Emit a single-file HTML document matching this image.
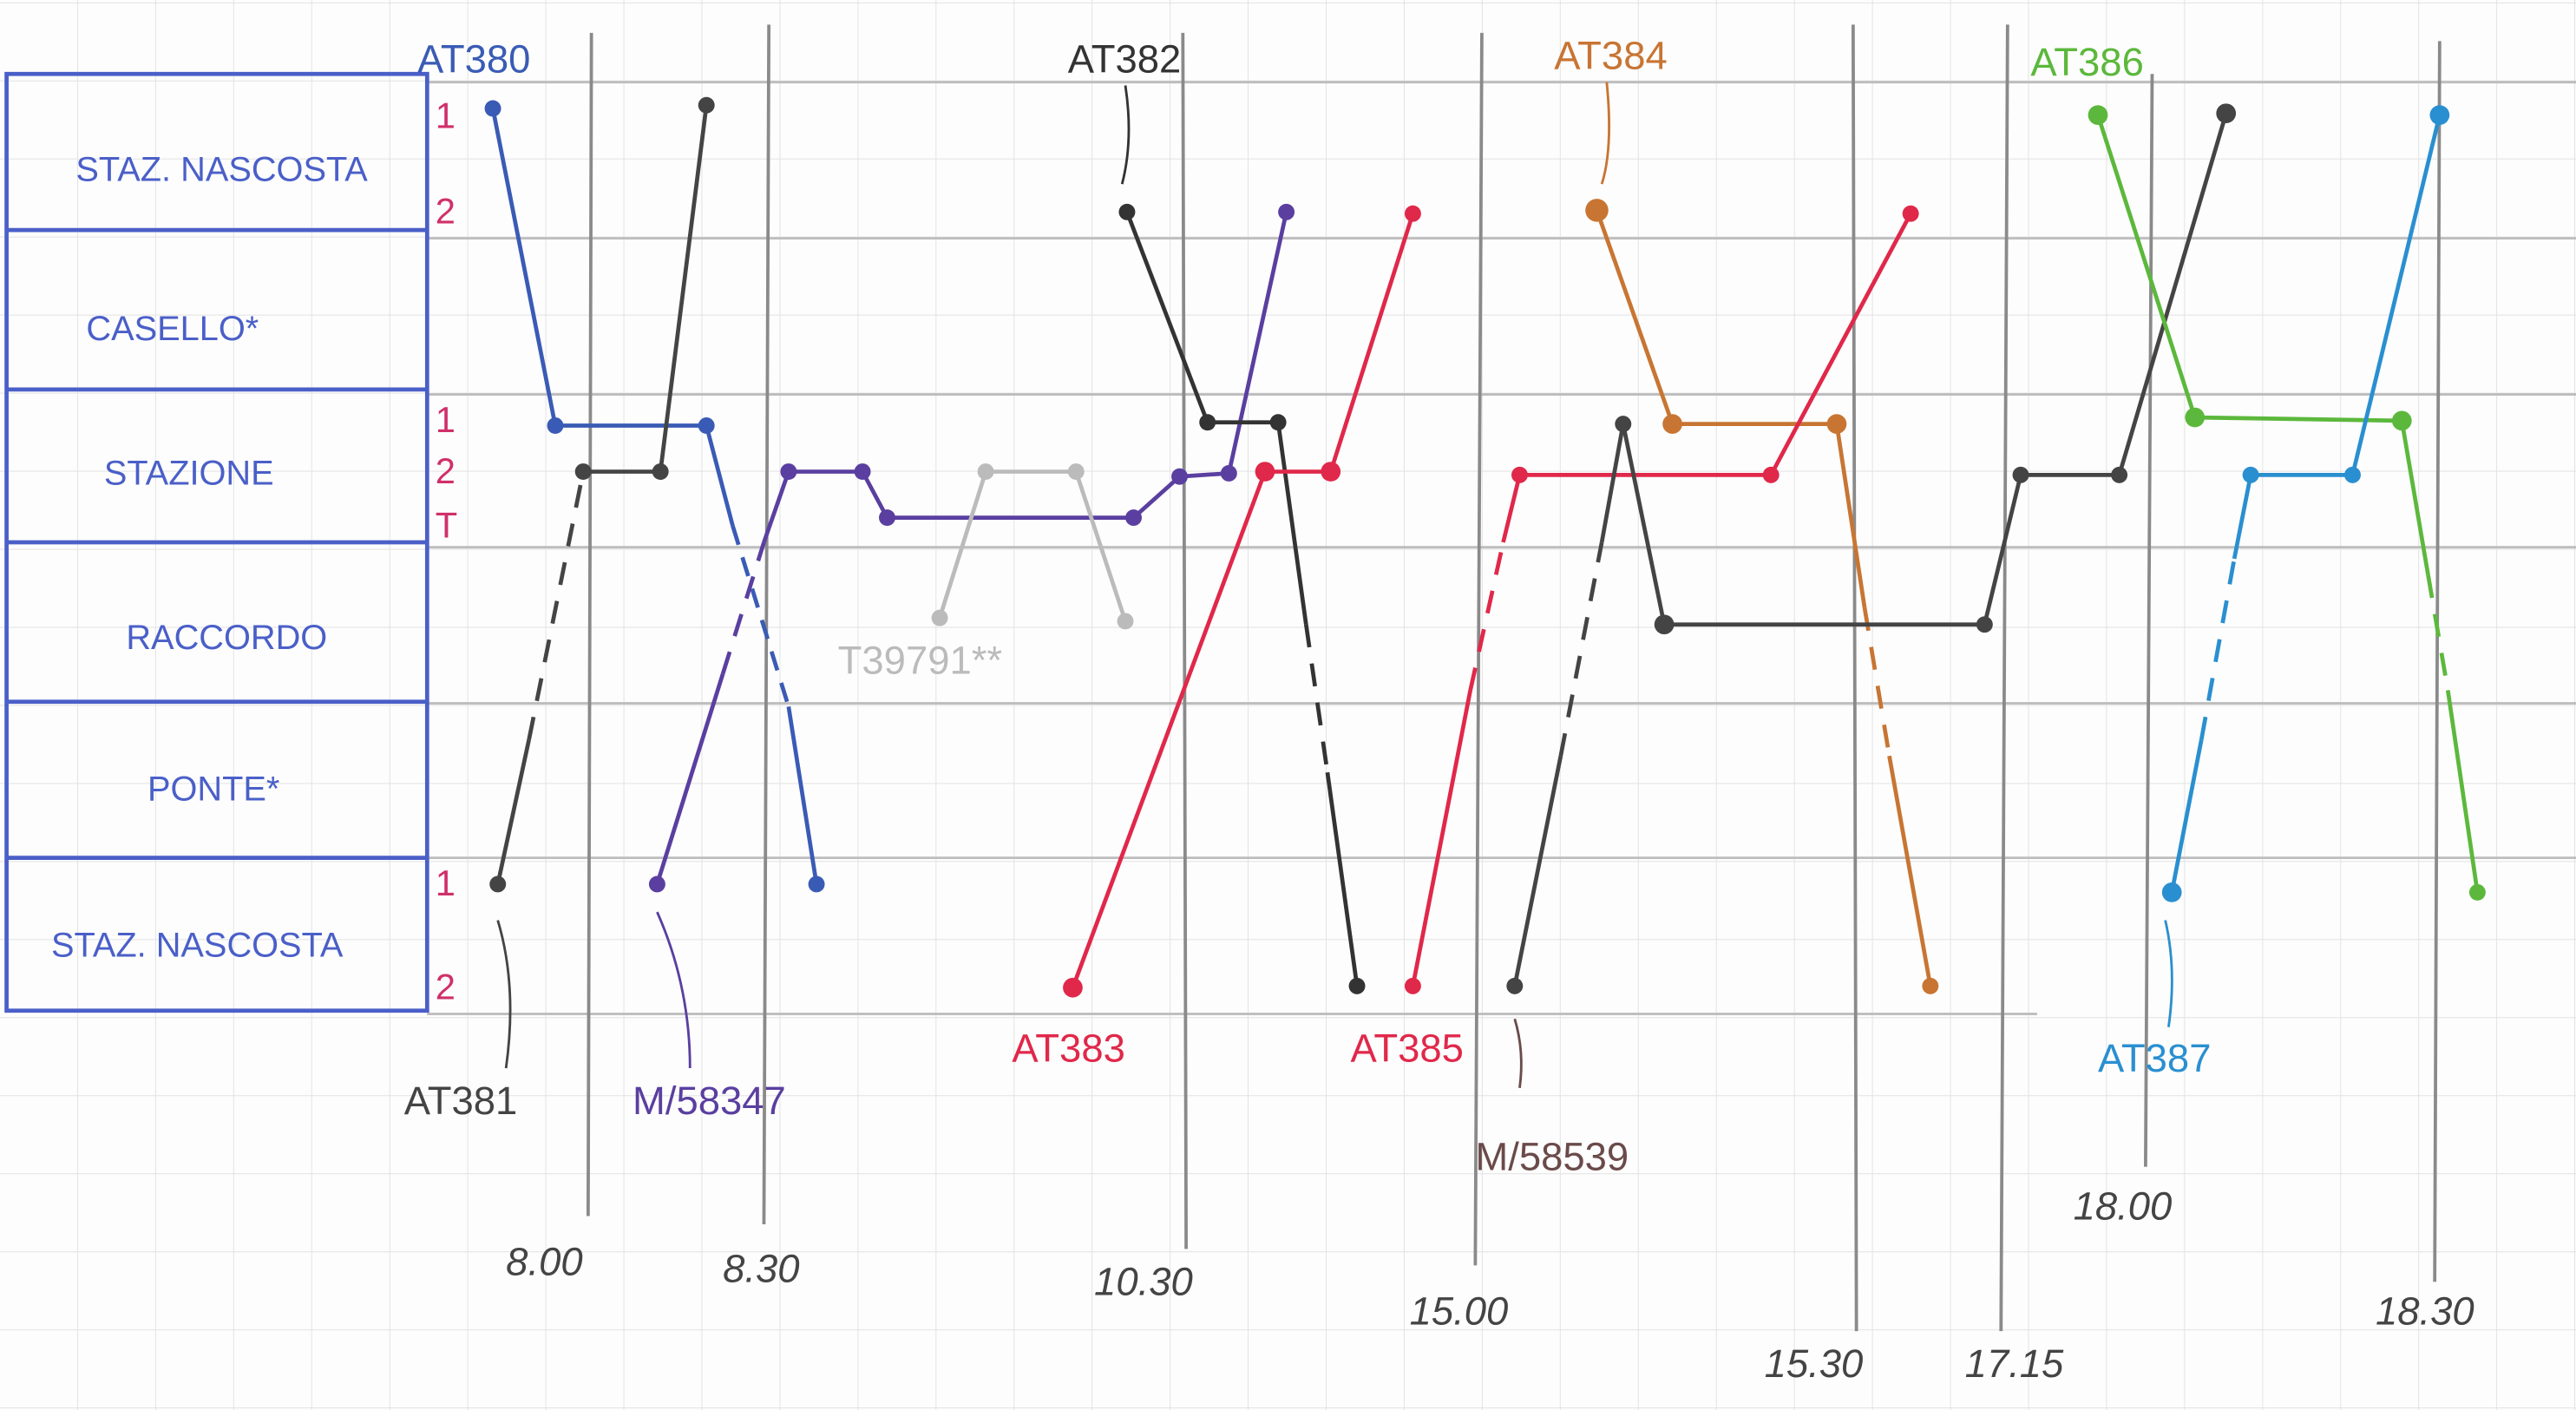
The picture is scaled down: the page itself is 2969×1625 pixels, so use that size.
<!DOCTYPE html>
<html><head><meta charset="utf-8"><style>
html,body{margin:0;padding:0;background:#fff;}
svg{display:block;}
text{font-family:"Liberation Sans",sans-serif;}
</style></head><body>
<svg width="2969" height="1625" viewBox="0 0 1568 858" preserveAspectRatio="none" xmlns="http://www.w3.org/2000/svg">
<defs>
<pattern id="g" width="47.5" height="47.5" patternUnits="userSpaceOnUse" x="0" y="2">
<path d="M47.5 0V47.5M0 47.5H47.5" stroke="#e2e2e2" stroke-width="1" fill="none"/>
</pattern>
</defs>
<rect width="1568" height="858" fill="#fdfdfd"/>
<rect width="1568" height="858" fill="url(#g)"/>
<!-- horizontal station lines -->
<g stroke="#bdbdbd" stroke-width="1.5">
<line x1="260" y1="50" x2="1568" y2="50"/>
<line x1="260" y1="145" x2="1568" y2="145"/>
<line x1="260" y1="240" x2="1568" y2="240"/>
<line x1="260" y1="333" x2="1568" y2="333"/>
<line x1="260" y1="428" x2="1568" y2="428"/>
<line x1="260" y1="522" x2="1568" y2="522"/>
<line x1="260" y1="617" x2="1240" y2="617"/>
</g>
<!-- vertical time lines -->
<g stroke="#8a8a8a" stroke-width="2">
<line x1="360" y1="20" x2="358" y2="740"/>
<line x1="468" y1="15" x2="465" y2="745"/>
<line x1="720" y1="20" x2="722" y2="760"/>
<line x1="902" y1="20" x2="898" y2="770"/>
<line x1="1128" y1="15" x2="1130" y2="810"/>
<line x1="1222" y1="15" x2="1218" y2="810"/>
<line x1="1310" y1="45" x2="1306" y2="710"/>
<line x1="1485" y1="25" x2="1482" y2="780"/>
</g>
<g font-size="24" fill="#444" font-style="italic">
<text x="308" y="776">8.00</text>
<text x="440" y="780">8.30</text>
<text x="666" y="788">10.30</text>
<text x="858" y="806">15.00</text>
<text x="1074" y="838">15.30</text>
<text x="1196" y="838">17.15</text>
<text x="1262" y="742">18.00</text>
<text x="1446" y="806">18.30</text>
</g>
<!-- table -->
<g stroke="#4a5fc8" stroke-width="2.5" fill="none">
<rect x="4" y="45" width="256" height="570"/>
<line x1="4" y1="140" x2="260" y2="140"/>
<line x1="4" y1="237" x2="260" y2="237"/>
<line x1="4" y1="330" x2="260" y2="330"/>
<line x1="4" y1="427" x2="260" y2="427"/>
<line x1="4" y1="522" x2="260" y2="522"/>
</g>
<g fill="#4a5fc8" font-size="21" text-anchor="middle">
<text x="135" y="110">STAZ. NASCOSTA</text>
<text x="105" y="207">CASELLO*</text>
<text x="115" y="295">STAZIONE</text>
<text x="138" y="395">RACCORDO</text>
<text x="130" y="487">PONTE*</text>
<text x="120" y="582">STAZ. NASCOSTA</text>
</g>
<g fill="#d0306a" font-size="22">
<text x="265" y="78">1</text><text x="265" y="136">2</text>
<text x="265" y="263">1</text><text x="265" y="294">2</text><text x="265" y="327">T</text>
<text x="265" y="545">1</text><text x="265" y="608">2</text>
</g>
<g fill="none" stroke-width="2.5" stroke-linejoin="round">
<path d="M300 66 L338 259 L430 259 L446 320" stroke="#3a5bb5"/>
<path d="M446 320 L480 430" stroke="#3a5bb5" stroke-dasharray="12 8"/>
<path d="M480 430 L497 538" stroke="#3a5bb5"/>
<path d="M303 538 L322 450" stroke="#444"/>
<path d="M322 450 L355 287" stroke="#444" stroke-dasharray="14 10"/>
<path d="M355 287 L402 287 L430 64" stroke="#444"/>
<path d="M400 538 L440 410" stroke="#5a3fa0"/>
<path d="M440 410 L465 330" stroke="#5a3fa0" stroke-dasharray="14 10"/>
<path d="M465 330 L480 287 L525 287 L540 315 L690 315 L718 290 L748 288 L783 129" stroke="#5a3fa0"/>
<path d="M572 376 L600 287 L655 287 L685 378" stroke="#bbb"/>
<path d="M686 129 L735 257 L778 257 L795 380" stroke="#333"/>
<path d="M795 380 L808 470" stroke="#333" stroke-dasharray="14 10"/>
<path d="M808 470 L826 600" stroke="#333"/>
<path d="M653 601 L770 287 L810 287 L860 130" stroke="#e0284a"/>
<path d="M972 128 L1018 258 L1118 258 L1135 370" stroke="#c87533"/>
<path d="M1135 370 L1150 460" stroke="#c87533" stroke-dasharray="14 10"/>
<path d="M1150 460 L1175 600" stroke="#c87533"/>
<path d="M860 600 L895 420" stroke="#e0284a"/>
<path d="M895 420 L915 330" stroke="#e0284a" stroke-dasharray="14 10"/>
<path d="M915 330 L925 289 L1078 289 L1163 130" stroke="#e0284a"/>
<path d="M922 600 L950 460" stroke="#444"/>
<path d="M950 460 L975 330" stroke="#444" stroke-dasharray="14 10"/>
<path d="M975 330 L988 258 L1013 380 L1208 380 L1230 289 L1290 289 L1355 69" stroke="#444"/>
<path d="M1277 70 L1336 254 L1462 256 L1478 350" stroke="#5cb83c"/>
<path d="M1478 350 L1490 420" stroke="#5cb83c" stroke-dasharray="14 10"/>
<path d="M1490 420 L1508 543" stroke="#5cb83c"/>
<path d="M1322 543 L1340 450" stroke="#2a8fd0"/>
<path d="M1340 450 L1360 340" stroke="#2a8fd0" stroke-dasharray="14 10"/>
<path d="M1360 340 L1370 289 L1432 289 L1485 70" stroke="#2a8fd0"/>
</g>
<!-- dots -->
<g>
<g fill="#3a5bb5"><circle cx="300" cy="66" r="5"/><circle cx="338" cy="259" r="5"/><circle cx="430" cy="259" r="5"/><circle cx="497" cy="538" r="5"/></g>
<g fill="#444"><circle cx="303" cy="538" r="5"/><circle cx="355" cy="287" r="5"/><circle cx="402" cy="287" r="5"/><circle cx="430" cy="64" r="5"/></g>
<g fill="#5a3fa0"><circle cx="400" cy="538" r="5"/><circle cx="480" cy="287" r="5"/><circle cx="525" cy="287" r="5"/><circle cx="540" cy="315" r="5"/><circle cx="690" cy="315" r="5"/><circle cx="718" cy="290" r="5"/><circle cx="748" cy="288" r="5"/><circle cx="783" cy="129" r="5"/></g>
<g fill="#bbb"><circle cx="572" cy="376" r="5"/><circle cx="600" cy="287" r="5"/><circle cx="655" cy="287" r="5"/><circle cx="685" cy="378" r="5"/></g>
<g fill="#333"><circle cx="686" cy="129" r="5"/><circle cx="735" cy="257" r="5"/><circle cx="778" cy="257" r="5"/><circle cx="826" cy="600" r="5"/></g>
<g fill="#e0284a"><circle cx="653" cy="601" r="6"/><circle cx="770" cy="287" r="6"/><circle cx="810" cy="287" r="6"/><circle cx="860" cy="130" r="5"/><circle cx="860" cy="600" r="5"/><circle cx="925" cy="289" r="5"/><circle cx="1078" cy="289" r="5"/><circle cx="1163" cy="130" r="5"/></g>
<g fill="#c87533"><circle cx="972" cy="128" r="7"/><circle cx="1018" cy="258" r="6"/><circle cx="1118" cy="258" r="6"/><circle cx="1175" cy="600" r="5"/></g>
<g fill="#444"><circle cx="922" cy="600" r="5"/><circle cx="988" cy="258" r="5"/><circle cx="1013" cy="380" r="6"/><circle cx="1208" cy="380" r="5"/><circle cx="1230" cy="289" r="5"/><circle cx="1290" cy="289" r="5"/><circle cx="1355" cy="69" r="6"/></g>
<g fill="#5cb83c"><circle cx="1277" cy="70" r="6"/><circle cx="1336" cy="254" r="6"/><circle cx="1462" cy="256" r="6"/><circle cx="1508" cy="543" r="5"/></g>
<g fill="#2a8fd0"><circle cx="1322" cy="543" r="6"/><circle cx="1370" cy="289" r="5"/><circle cx="1432" cy="289" r="5"/><circle cx="1485" cy="70" r="6"/></g>
</g>
<!-- leader lines -->
<g fill="none" stroke-width="1.5">
<path d="M685 52 Q690 85 683 112" stroke="#333"/>
<path d="M978 50 Q982 90 975 112" stroke="#c87533"/>
<path d="M303 560 Q315 600 308 650" stroke="#444"/>
<path d="M400 555 Q420 600 420 650" stroke="#5a3fa0"/>
<path d="M922 620 Q928 640 925 662" stroke="#6b4a4a"/>
<path d="M1318 560 Q1325 590 1320 625" stroke="#2a8fd0"/>
</g>
<!-- labels -->
<g font-size="24">
<text x="254" y="44" fill="#3a5bb5">AT380</text>
<text x="650" y="44" fill="#333">AT382</text>
<text x="946" y="42" fill="#c87533">AT384</text>
<text x="1236" y="46" fill="#5cb83c">AT386</text>
<text x="246" y="678" fill="#444">AT381</text>
<text x="385" y="678" fill="#5a3fa0">M/58347</text>
<text x="616" y="646" fill="#e0284a">AT383</text>
<text x="822" y="646" fill="#e0284a">AT385</text>
<text x="898" y="712" fill="#6b4a4a">M/58539</text>
<text x="1277" y="652" fill="#2a8fd0">AT387</text>
<text x="510" y="410" fill="#bbb">T39791**</text>
</g>
</svg>
</body></html>
